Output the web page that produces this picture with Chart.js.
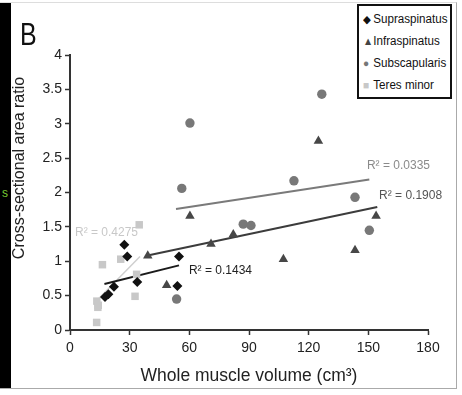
<!DOCTYPE html>
<html>
<head>
<meta charset="utf-8">
<script src="https://cdn.jsdelivr.net/npm/chart.js@4.4.0/dist/chart.umd.min.js"></script>
<style>
  html, body { margin: 0; padding: 0; background: #fff; }
  #wrap { position: relative; width: 462px; height: 395px; overflow: hidden; font-family: "Liberation Sans", Arial, sans-serif; }
  #frame { position: absolute; left: 0; top: 2px; width: 456px; height: 385px; border-top: 1px solid #ddd; border-right: 1px solid #aaa; border-bottom: 1px solid #aaa; }
  #strip { position: absolute; left: 0; top: 3px; width: 11px; height: 385px; background: #000; }
  #strip span { position: absolute; left: 2px; top: 183px; color: #7c3; font-size: 12px; }
  #chart { position: absolute; left: 0; top: 0; }
  #letterB { position: absolute; left: 20px; top: 16px; font-size: 32px; color: #111; transform: scaleX(0.78); transform-origin: left top; }
  #ytitle { position: absolute; left: 19px; top: 168px; font-size: 16px; color: #222; white-space: nowrap; transform: translate(-50%, -50%) rotate(-90deg); }
  #legend { position: absolute; left: 357px; top: 4px; width: 91px; height: 91px; border: 2px solid #111; background: #fff; }
  #legend div { position: absolute; left: 4px; font-size: 12.5px; color: #111; white-space: nowrap; transform: scaleX(0.93); transform-origin: left center; }
  #legend b { display: inline-block; width: 11px; font-weight: normal; font-size: 11px; }
</style>
</head>
<body>
<div id="wrap">
  <div id="frame"></div>
  <div id="strip"><span>s</span></div>
  <canvas id="chart" width="462" height="395"></canvas>
  <div id="letterB">B</div>
  <div id="ytitle">Cross-sectional area ratio</div>
  <div id="legend">
    <div style="top:6px"><b style="color:#111">&#9670;</b>Supraspinatus</div>
    <div style="top:28px"><b style="color:#444">&#9650;</b>Infraspinatus</div>
    <div style="top:50px"><b style="color:#777">&#9679;</b>Subscapularis</div>
    <div style="top:72px"><b style="color:#c8c8c8">&#9632;</b>Teres minor</div>
  </div>
</div>
<script>
/* ========= DATA ========= */
const supraX = [17.6, 19.3, 22.1, 27.3, 28.8, 33.8, 54.8, 54.0];
const supraY = [0.48, 0.52, 0.63, 1.24, 1.07, 0.70, 1.07, 0.64];

const infraX = [39.1, 48.6, 60.3, 70.9, 82.1, 107.3, 124.9, 143.3, 153.9];
const infraY = [1.08, 0.65, 1.66, 1.25, 1.39, 1.03, 2.75, 1.16, 1.66];

const subX = [53.6, 56.2, 60.3, 87.1, 91.0, 112.6, 126.6, 143.3, 150.5];
const subY = [0.45, 2.06, 3.01, 1.54, 1.52, 2.17, 3.43, 1.93, 1.45];

const teresX = [13.4, 13.5, 14.2, 14.0, 16.3, 25.5, 32.7, 33.5, 34.8];
const teresY = [0.11, 0.42, 0.36, 0.33, 0.95, 1.03, 0.49, 0.81, 1.53];

// trend line end points
const supraTrendX = [17.3, 54.8], supraTrendY = [0.67, 0.94];
const infraTrendX = [40.2, 154.5], infraTrendY = [1.09, 1.79];
const subTrendX = [53.3, 150.5], subTrendY = [1.76, 2.19];
const teresTrendX = [13.5, 35.2], teresTrendY = [0.43, 1.07];

const xTicks = [0, 30, 60, 90, 120, 150, 180];
const yTicks = [0, 0.5, 1, 1.5, 2, 2.5, 3, 3.5, 4];

/* ========= HELPERS ========= */
const pts = (xs, ys) => xs.map((x, i) => ({ x, y: ys[i] }));

const scatterSet = (label, xs, ys, style, color, r) => ({
  type: 'scatter', label, data: pts(xs, ys),
  pointStyle: style, pointRadius: r, pointHoverRadius: r,
  backgroundColor: color, borderColor: color, borderWidth: 0
});
const trendSet = (xs, ys, color, w) => ({
  type: 'line', data: pts(xs, ys), borderColor: color, borderWidth: w,
  pointRadius: 0, fill: false, tension: 0
});

// R² text placed in data units (left edge, middle)
const rLabels = [
  { text: 'R\u00B2 = 0.0335', x: 149.3, y: 2.385, color: '#8a8a8a' },
  { text: 'R\u00B2 = 0.1908', x: 155.4, y: 1.96, color: '#555' },
  { text: 'R\u00B2 = 0.1434', x: 59.8, y: 0.87, color: '#222' },
  { text: 'R\u00B2 = 0.4275', x: 2.5, y: 1.41, color: '#c8c8c8' }
];

const rLabelPlugin = {
  id: 'rLabels',
  afterDatasetsDraw(chart) {
    const { ctx, scales: { x, y } } = chart;
    ctx.save();
    ctx.font = '12px "Liberation Sans", Arial, sans-serif';
    ctx.textAlign = 'left';
    ctx.textBaseline = 'middle';
    rLabels.forEach(l => {
      ctx.fillStyle = l.color;
      ctx.fillText(l.text, x.getPixelForValue(l.x), y.getPixelForValue(l.y));
    });
    ctx.restore();
  }
};

const tickFont = { size: 14, family: '"Liberation Sans", Arial' };

/* ========= CHART ========= */
new Chart(document.getElementById('chart'), {
  data: {
    datasets: [
      scatterSet('Supraspinatus', supraX, supraY, 'rectRot', '#111', 5),
      scatterSet('Infraspinatus', infraX, infraY, 'triangle', '#474747', 5.5),
      scatterSet('Subscapularis', subX, subY, 'circle', '#787878', 4.7),
      scatterSet('Teres minor', teresX, teresY, 'rect', '#c8c8c8', 5.3),
      trendSet(supraTrendX, supraTrendY, '#1a1a1a', 2),
      trendSet(infraTrendX, infraTrendY, '#3c3c3c', 2),
      trendSet(subTrendX, subTrendY, '#7a7a7a', 2),
      trendSet(teresTrendX, teresTrendY, '#cfcfcf', 1.5)
    ]
  },
  options: {
    responsive: false,
    animation: false,
    layout: { padding: { left: 0, top: 55, right: 34, bottom: 0 } },
    plugins: { legend: { display: false }, tooltip: { enabled: false } },
    scales: {
      x: {
        type: 'linear', min: 0, max: 180,
        afterBuildTicks: s => { s.ticks = xTicks.map(v => ({ value: v })); },
        afterFit: s => { s.height = 65; },
        grid: { display: true, drawOnChartArea: false, tickLength: 5, tickColor: '#333', tickWidth: 1.5 },
        border: { display: true, color: '#333', width: 2 },
        ticks: { color: '#222', font: tickFont, padding: 5, maxRotation: 0, callback: v => String(v) },
        title: { display: true, text: 'Whole muscle volume (cm\u00B3)', color: '#222',
                 font: { size: 17.5, family: '"Liberation Sans", Arial' }, padding: { top: 0, bottom: 8 } }
      },
      y: {
        type: 'linear', min: 0, max: 4,
        afterBuildTicks: s => { s.ticks = yTicks.map(v => ({ value: v })); },
        afterFit: s => { s.width = 70; },
        grid: { display: true, drawOnChartArea: false, tickLength: 5, tickColor: '#333', tickWidth: 1.5 },
        border: { display: true, color: '#333', width: 2 },
        ticks: { color: '#222', font: tickFont, padding: 3, callback: v => String(v) }
      }
    }
  },
  plugins: [rLabelPlugin]
});
</script>
</body>
</html>
